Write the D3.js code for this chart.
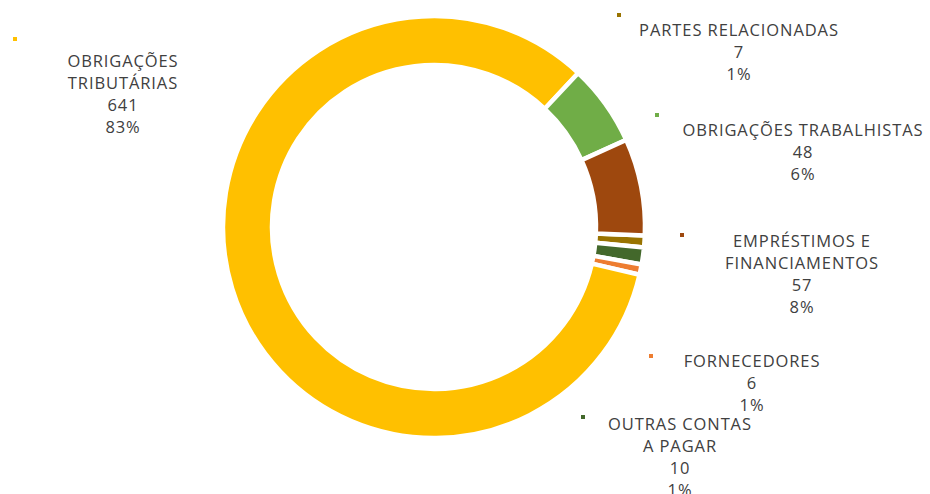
<!DOCTYPE html>
<html>
<head>
<meta charset="utf-8">
<script src="https://cdn.jsdelivr.net/npm/d3@7"></script>
<style>
  body { margin: 0; background: #fff; }
  text { font-family: "Open Sans", "DejaVu Sans", sans-serif; fill: #404040; }
</style>
</head>
<body>
<svg id="chart" width="930" height="494"></svg>
<script>
// data, in the order the pie is drawn (clockwise from the first slice angle)
var categories = ["PARTES RELACIONADAS", "OUTRAS CONTAS A PAGAR", "FORNECEDORES",
                  "OBRIGAÇÕES TRIBUTÁRIAS", "OBRIGAÇÕES TRABALHISTAS", "EMPRÉSTIMOS E FINANCIAMENTOS"];
var values = [7, 10, 6, 641, 48, 57];
var percentLabels = ["1%", "1%", "1%", "83%", "6%", "8%"];
var colors = ["#997300", "#43682B", "#ED7D31", "#FFC000", "#70AD47", "#9E480E"];

// label text lines (excel wraps them by hand)
var labelLines = [
    ["PARTES RELACIONADAS"],
    ["OUTRAS CONTAS", "A PAGAR"],
    ["FORNECEDORES"],
    ["OBRIGAÇÕES", "TRIBUTÁRIAS"],
    ["OBRIGAÇÕES TRABALHISTAS"],
    ["EMPRÉSTIMOS E", "FINANCIAMENTOS"]
];

// manual label placement: [text centre x, first baseline y, marker x, marker y]
var labelPos = [
    [739, 36, 619, 15],
    [680, 430, 583, 417],
    [752, 367, 651, 356],
    [123, 67, 15, 39],
    [803, 136, 657, 115],
    [802, 247, 682, 235]
];

var width = 930, height = 494;
var cx = 434, cy = 227;
var outerR = 211, innerR = 162;
var startDeg = 92.3;
var lineH = 22;

var svg = d3.select("#chart");

var pie = d3.pie()
    .sort(null)
    .value(function (d) { return d; })
    .startAngle(startDeg * Math.PI / 180)
    .endAngle((startDeg + 360) * Math.PI / 180);

var arc = d3.arc()
    .innerRadius(innerR)
    .outerRadius(outerR);

var ring = svg.append("g")
    .attr("transform", "translate(" + cx + "," + cy + ")");

ring.selectAll("path")
    .data(pie(values))
    .enter()
    .append("path")
    .attr("d", arc)
    .attr("fill", function (d, i) { return colors[i]; })
    .attr("stroke", "#fff")
    .attr("stroke-width", 4.5)
    .attr("stroke-linejoin", "miter");

var labels = svg.append("g").attr("class", "labels");

categories.forEach(function (c, i) {
    var p = labelPos[i];
    var lines = labelLines[i].concat([String(values[i]), percentLabels[i]]);

    labels.append("rect")
        .attr("x", p[2] - 2)
        .attr("y", p[3] - 2)
        .attr("width", 4)
        .attr("height", 4)
        .attr("fill", colors[i]);

    var t = labels.append("text")
        .attr("text-anchor", "middle")
        .attr("font-size", 16.5)
        .attr("letter-spacing", 0.9);

    lines.forEach(function (l, j) {
        t.append("tspan")
            .attr("x", p[0])
            .attr("y", p[1] + j * lineH)
            .text(l);
    });
});
</script>
</body>
</html>
